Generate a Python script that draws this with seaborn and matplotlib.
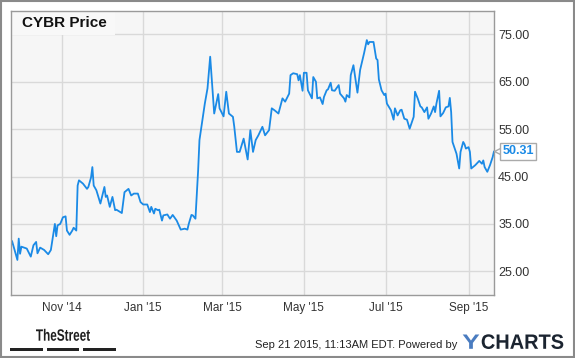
import matplotlib
matplotlib.use("Agg")
import pandas as pd
import seaborn as sns
import matplotlib.pyplot as plt
import matplotlib.dates as mdates
from matplotlib.patches import Rectangle, PathPatch
from matplotlib.textpath import TextPath
from matplotlib.font_manager import FontProperties
from matplotlib.transforms import Affine2D, offset_copy

# CYBR closing prices
dates = [
    "2014-09-24", "2014-09-25", "2014-09-29", "2014-09-30", "2014-10-01", "2014-10-02", "2014-10-06",
    "2014-10-09", "2014-10-11", "2014-10-13", "2014-10-14", "2014-10-16", "2014-10-19", "2014-10-22",
    "2014-10-24", "2014-10-27", "2014-10-28", "2014-10-29", "2014-10-31",
    "2014-11-02", "2014-11-04", "2014-11-05", "2014-11-07", "2014-11-09", "2014-11-10", "2014-11-12",
    "2014-11-13", "2014-11-14", "2014-11-17", "2014-11-20", "2014-11-21", "2014-11-23", "2014-11-24",
    "2014-11-25", "2014-11-27", "2014-11-30",
    "2014-12-03", "2014-12-04", "2014-12-05", "2014-12-07", "2014-12-09", "2014-12-11", "2014-12-12",
    "2014-12-16", "2014-12-18", "2014-12-21", "2014-12-23", "2014-12-25", "2014-12-28", "2014-12-30",
    "2015-01-01", "2015-01-04", "2015-01-06", "2015-01-07", "2015-01-09", "2015-01-10", "2015-01-12",
    "2015-01-13", "2015-01-15", "2015-01-16", "2015-01-19", "2015-01-21", "2015-01-23", "2015-01-26",
    "2015-01-29",
    "2015-02-01", "2015-02-03", "2015-02-04", "2015-02-06", "2015-02-07", "2015-02-09", "2015-02-10",
    "2015-02-11", "2015-02-12", "2015-02-16", "2015-02-18", "2015-02-20", "2015-02-23", "2015-02-26",
    "2015-02-27",
    "2015-03-02", "2015-03-04", "2015-03-06", "2015-03-09", "2015-03-10", "2015-03-12", "2015-03-14",
    "2015-03-17", "2015-03-20", "2015-03-22", "2015-03-24", "2015-03-26", "2015-03-28", "2015-03-31",
    "2015-04-02", "2015-04-05", "2015-04-07", "2015-04-09", "2015-04-12", "2015-04-15", "2015-04-17",
    "2015-04-20", "2015-04-21", "2015-04-23", "2015-04-26", "2015-04-27", "2015-04-28", "2015-04-30",
    "2015-05-01", "2015-05-03", "2015-05-04", "2015-05-07", "2015-05-08", "2015-05-10", "2015-05-11",
    "2015-05-13", "2015-05-15", "2015-05-16", "2015-05-18", "2015-05-19", "2015-05-21", "2015-05-22",
    "2015-05-24", "2015-05-27", "2015-05-28", "2015-05-31",
    "2015-06-01", "2015-06-02", "2015-06-04", "2015-06-05", "2015-06-07", "2015-06-09", "2015-06-10",
    "2015-06-12", "2015-06-14", "2015-06-15", "2015-06-17", "2015-06-18", "2015-06-19", "2015-06-22",
    "2015-06-24", "2015-06-25", "2015-06-26", "2015-06-28", "2015-06-30",
    "2015-07-01", "2015-07-02", "2015-07-05", "2015-07-07", "2015-07-08", "2015-07-10", "2015-07-12",
    "2015-07-13", "2015-07-15", "2015-07-17", "2015-07-19", "2015-07-22", "2015-07-23", "2015-07-25",
    "2015-07-27", "2015-07-28", "2015-07-30",
    "2015-08-01", "2015-08-02", "2015-08-04", "2015-08-06", "2015-08-07", "2015-08-08", "2015-08-10",
    "2015-08-11", "2015-08-13", "2015-08-15", "2015-08-17", "2015-08-18", "2015-08-19", "2015-08-20",
    "2015-08-23", "2015-08-25", "2015-08-26", "2015-08-28", "2015-08-29", "2015-08-30",
    "2015-09-01", "2015-09-02", "2015-09-03", "2015-09-06", "2015-09-09", "2015-09-11", "2015-09-12",
    "2015-09-13", "2015-09-15", "2015-09-17", "2015-09-19", "2015-09-20",
]

prices = [
    30.1, 31.4, 27.4, 31.9, 28.7, 30.2, 29.8, 28.1, 30.5, 31.2, 28.8, 30.0, 29.5, 28.6, 29.5, 35.0, 32.4, 34.7, 35.0,
    36.4, 36.6, 33.6, 32.7, 33.6, 34.2, 33.6, 43.1, 44.2, 43.5, 42.4, 42.8, 44.8, 47.0, 43.1, 42.1, 39.3,
    42.8, 40.7, 41.0, 38.6, 40.7, 37.9, 38.0, 37.3, 41.7, 42.4, 41.0, 41.4, 41.4, 39.6,
    39.1, 39.1, 37.5, 38.6, 37.2, 38.2, 37.9, 38.0, 35.7, 36.8, 37.0, 36.1, 36.9, 35.7, 33.8,
    34.0, 33.8, 35.0, 36.9, 36.8, 36.1, 41.4, 46.3, 52.7, 60.4, 63.6, 70.3, 58.3, 62.4, 59.4,
    57.7, 62.9, 58.3, 57.6, 55.5, 50.2, 50.2, 53.0, 48.6, 54.8, 50.2, 52.7, 53.7, 55.5,
    53.7, 54.8, 59.4, 59.0, 58.3, 61.5, 60.8, 62.5, 66.4, 66.8, 66.6, 65.3, 66.4, 63.1,
    66.9, 66.9, 63.2, 61.5, 66.0, 65.0, 61.5, 61.7, 60.3, 61.8, 63.2, 63.4, 64.8, 63.2, 63.1, 64.3, 62.5, 61.5,
    60.8, 62.2, 61.7, 66.4, 68.5, 64.6, 62.7, 67.5, 69.9, 71.1, 73.8, 72.9, 73.4, 73.4, 69.9, 69.6, 65.5, 63.2, 62.2,
    62.5, 60.4, 59.0, 57.0, 59.4, 57.9, 59.0, 59.1, 57.2, 57.0, 55.1, 57.6, 62.9, 61.5, 59.8, 59.6, 58.6,
    59.6, 57.2, 58.3, 59.8, 58.6, 60.4, 63.1, 57.7, 58.4, 59.6, 59.8, 61.6, 58.6, 52.3, 49.8, 46.7, 50.2, 52.3, 51.8, 50.9,
    51.2, 50.2, 46.7, 47.4, 48.3, 47.7, 48.4, 47.0, 46.0, 47.4, 49.1, 50.31,
]

y_ticks = [25, 35, 45, 55, 65, 75]
title = "CYBR Price"
footer = "Sep 21 2015, 11:13AM EDT. Powered by"

df = pd.DataFrame({"date": pd.to_datetime(dates), "price": prices})

sns.set_style("white")
plt.rcParams["font.family"] = ["Liberation Sans", "DejaVu Sans"]

line_color = "#1a8ae6"
W, H = 575, 358

fig = plt.figure(figsize=(W / 100, H / 100), dpi=100)
fig.patch.set_facecolor("white")
ax = fig.add_axes([10.7 / W, 1 - 295 / H, 483.3 / W, 284.3 / H])
ax.set_facecolor("#f6f6f6")

sns.lineplot(data=df, x="date", y="price", ax=ax, color=line_color, linewidth=1.3)

ax.set_xlim(df["date"].iloc[0], df["date"].iloc[-1])
ax.set_ylim(20, 80)
ax.set_yticks(y_ticks)
ax.set_yticklabels([f"{v:.2f}" for v in y_ticks])
ax.yaxis.tick_right()
ax.xaxis.set_major_locator(mdates.MonthLocator(bymonth=[1, 3, 5, 7, 9, 11]))
ax.xaxis.set_major_formatter(mdates.DateFormatter("%b '%y"))
ax.tick_params(length=0, colors="#333333")
ax.tick_params(axis="y", pad=3, labelsize=9)
ax.tick_params(axis="x", pad=5, labelsize=8.5)
ax.set_xlabel("")
ax.set_ylabel("")
ax.grid(True, color="#d9d9d9", linewidth=1)
ax.set_axisbelow(True)
for s in ax.spines.values():
    s.set_color("#9a9a9a")
    s.set_linewidth(1)

# title box in the top left corner
ax.add_patch(Rectangle((0, 1 - 24.3 / 284.3), 104.3 / 483.3, 24.3 / 284.3,
                       transform=ax.transAxes, facecolor="#f8f8f8", edgecolor="none", zorder=1.5))
ax.text(11 / 483.3, 1 - 12 / 284.3, title, transform=ax.transAxes, ha="left", va="center",
        fontsize=11, fontweight="bold", color="#111111", zorder=3)

# last value tag with a small pointer
last_date, last_price = df["date"].iloc[-1], prices[-1]
ax.plot([last_date], [last_price], marker="<", markersize=6, markerfacecolor="white",
        markeredgecolor="#aaaaaa", markeredgewidth=1, clip_on=False, zorder=2.9,
        transform=offset_copy(ax.transData, fig, x=4, y=0, units="dots"))
ax.annotate(f"{last_price:.2f}", xy=(last_date, last_price), xytext=(6, 0),
            textcoords="offset points", ha="left", va="center", fontsize=9, fontweight="bold",
            color=line_color, annotation_clip=False, zorder=3,
            bbox=dict(boxstyle="square,pad=0.2", facecolor="white", edgecolor="#aaaaaa", linewidth=1))


def logo_text(s, x0, x1, base, cap, color):
    # bold text squeezed into a pixel box (x0..x1, cap height above the baseline)
    prop = FontProperties(family="Liberation Sans", weight="bold")
    tp = TextPath((0, 0), s, size=100, prop=prop)
    ext = tp.get_extents()
    cap_h = TextPath((0, 0), "H", size=100, prop=prop).get_extents().height
    tr = (Affine2D().translate(-ext.x0, 0).scale((x1 - x0) / ext.width, cap / cap_h)
          .translate(x0, H - base).scale(1 / W, 1 / H) + fig.transFigure)
    fig.add_artist(PathPatch(tp, transform=tr, facecolor=color, edgecolor="none"))


# footer
logo_text("TheStreet", 36, 90, 340.7, 11.3, "#1e1e1e")
for x0, x1 in [(10, 42.7), (46.7, 79.3), (83.3, 115.7)]:
    fig.patches.append(Rectangle((x0 / W, 1 - 351 / H), (x1 - x0) / W, 3.5 / H,
                                 transform=fig.transFigure, facecolor="#222222", edgecolor="none"))
fig.text(457 / W, 1 - 347.5 / H, footer, ha="right", va="baseline", fontsize=8, color="#222222")
logo_text("Y", 462.7, 479.3, 348.8, 14.3, "#4a7cc0")
logo_text("CHARTS", 481.7, 563.3, 348.8, 14.3, "#1b2430")

# outer frame
fig.patches.append(Rectangle((0.5 / W, 1.5 / H), 573 / W, 355.5 / H, transform=fig.transFigure,
                             facecolor="none", edgecolor="#8a8a8a", linewidth=1.5))

fig.savefig("out.png", dpi=100)
